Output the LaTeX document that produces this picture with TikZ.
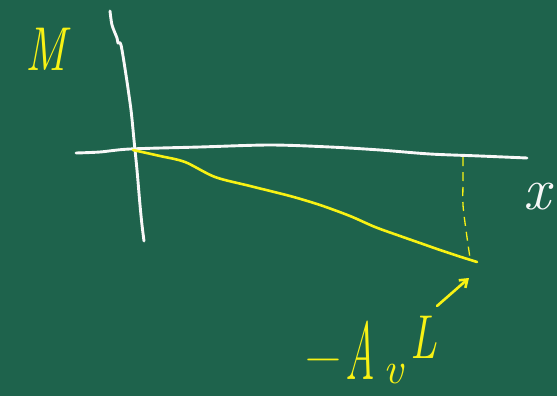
\documentclass[tikz,border=0pt]{standalone}
\usepackage{fontspec}
\usetikzlibrary{arrows.meta}
\definecolor{board}{RGB}{30,99,76}
\definecolor{chalkY}{RGB}{248,242,20}
\definecolor{chalkW}{RGB}{248,248,248}
\begin{document}
\begin{tikzpicture}[x=1pt,y=-1pt,
  whitechalk/.style={draw=chalkW,line width=2.9pt,line cap=round,line join=round},
  yellowchalk/.style={draw=chalkY,line width=2.6pt,line cap=round,line join=round},
  ylabel/.style={text=chalkY,inner sep=0pt},
  wlabel/.style={text=chalkW,inner sep=0pt}]
\fill[board] (0,0) rectangle (557,396);
\useasboundingbox (0,0) rectangle (557,396);
% vertical axis
\draw[whitechalk] plot[smooth,tension=0.5] coordinates {(110,11) (112,25) (117,38) (118,43) (121,45) (126,75) (131,110) (134,140) (137,170) (140,205) (142,225) (144,241)};
% horizontal axis
\draw[whitechalk] plot[smooth,tension=0.5] coordinates {(76,153) (100,152) (130,149) (200,147) (270,145) (330,147) (380,150) (430,154) (480,156) (527,158)};
% yellow moment line
\coordinate (origin) at (133,150);
\coordinate (curveEnd) at (477,262);
\draw[yellowchalk] plot[smooth,tension=0.5] coordinates {(origin) (160,156) (185,162) (215,177) (250,186) (290,196) (320,205) (350,216) (375,227) (400,236) (420,243) (440,250) (458,256) (curveEnd)};
% dashed drop line
\coordinate (dropTop) at (463,157);
\draw[chalkY,line width=1.3pt,dash pattern=on 9pt off 6pt] plot[smooth,tension=0.5] coordinates {(dropTop) (463,180) (463,205) (466,230) (470,258)};
% labels
\node[ylabel,font=\fontsize{62}{62}\selectfont\itshape,xscale=0.75] (labelM) at (46,49) {M};
\node[wlabel,font=\fontsize{60}{60}\selectfont\itshape] (labelX) at (537,197) {x};
\node[ylabel,font=\fontsize{50}{50}\selectfont] (labelMinus) at (323,366) {−};
\node[ylabel,font=\fontsize{82}{82}\selectfont\itshape,xscale=0.5] (labelA) at (360,350) {A};
\node[ylabel,font=\fontsize{44}{44}\selectfont\itshape] (labelV) at (393,374) {v};
\node[ylabel,font=\fontsize{62}{62}\selectfont\itshape,xscale=0.7] (labelL) at (424,337) {L};
% arrow
\coordinate (arrowStart) at (437,306);
\coordinate (arrowTip) at (469,278);
\draw[yellowchalk,-{Straight Barb[length=7pt,width=10pt]}] (arrowStart) -- (arrowTip);
\end{tikzpicture}
\end{document}
